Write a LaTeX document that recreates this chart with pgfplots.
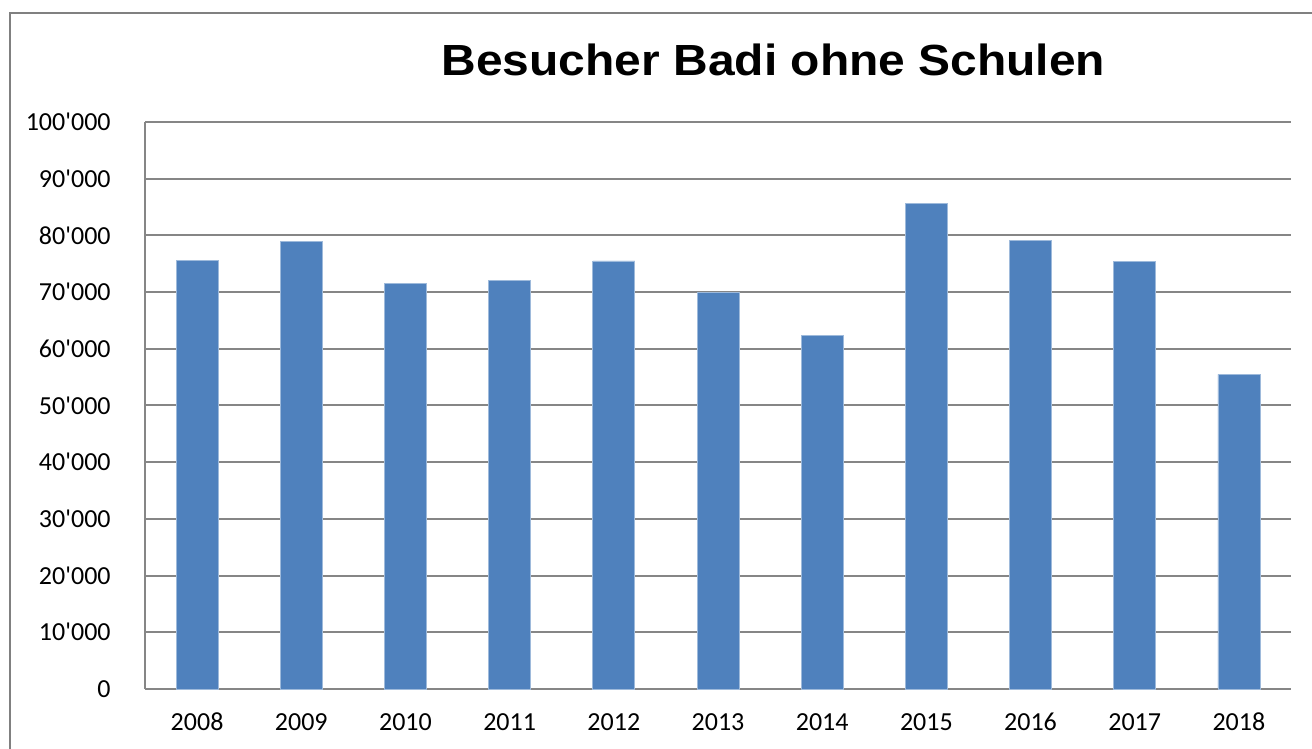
\documentclass[border=0pt]{standalone}
\usepackage{graphicx}
\usepackage{fontspec}
\setmainfont{Carlito}[Ligatures=TeXOff]
\newfontfamily\titlefont{Liberation Sans}[Ligatures=TeXOff]
\usepackage{pgfplots}
\pgfplotsset{compat=1.18}
\definecolor{barblue}{HTML}{4F81BD}
\definecolor{gridgray}{RGB}{134,134,134}
\definecolor{framegray}{RGB}{128,128,128}
\begin{document}
\begin{tikzpicture}
\path[use as bounding box] (0,0) rectangle (656pt,374.5pt);
\clip (0,0) rectangle (656pt,374.5pt);
\draw[framegray, line width=0.7pt] (5pt,-20pt) -- (5pt,368pt) -- (700pt,368pt);
\node[anchor=base, inner sep=0pt] at (386.75pt,336.5pt)
  {\titlefont\fontsize{21.8pt}{24pt}\selectfont\bfseries\scalebox{1.1}[1]{Besucher Badi ohne Schulen}};
\begin{axis}[
  at={(72.5pt,30pt)}, anchor=south west,
  scale only axis,
  width=573pt, height=283.5pt,
  xmin=-0.5, xmax=10.5,
  ymin=0, ymax=100000,
  axis lines=left,
  axis line style={-, gridgray, line width=1pt},
  ymajorgrids,
  grid style={gridgray, line width=1pt},
  major tick length=0pt,
  xtick={0,1,2,3,4,5,6,7,8,9,10},
  xticklabels={2008,2009,2010,2011,2012,2013,2014,2015,2016,2017,2018},
  ytick={0,10000,20000,30000,40000,50000,60000,70000,80000,90000,100000},
  yticklabels={0,10'000,20'000,30'000,40'000,50'000,60'000,70'000,80'000,90'000,100'000},
  xticklabel style={anchor=base, inner sep=0pt, yshift=-21pt, font=\fontsize{13pt}{15pt}\selectfont},
  yticklabel style={anchor=east, inner sep=0pt, xshift=-17pt, font=\fontsize{13pt}{15pt}\selectfont},
  scaled y ticks=false,
  clip=false,
]
\addplot[ybar, bar width=21pt, fill=barblue, draw=barblue!55!white, line width=0.4pt]
  coordinates {
    (0,75600) (1,79000) (2,71500) (3,72000) (4,75500) (5,69900)
    (6,62400) (7,85700) (8,79100) (9,75400) (10,55500)
  };
\end{axis}
\end{tikzpicture}
\end{document}
